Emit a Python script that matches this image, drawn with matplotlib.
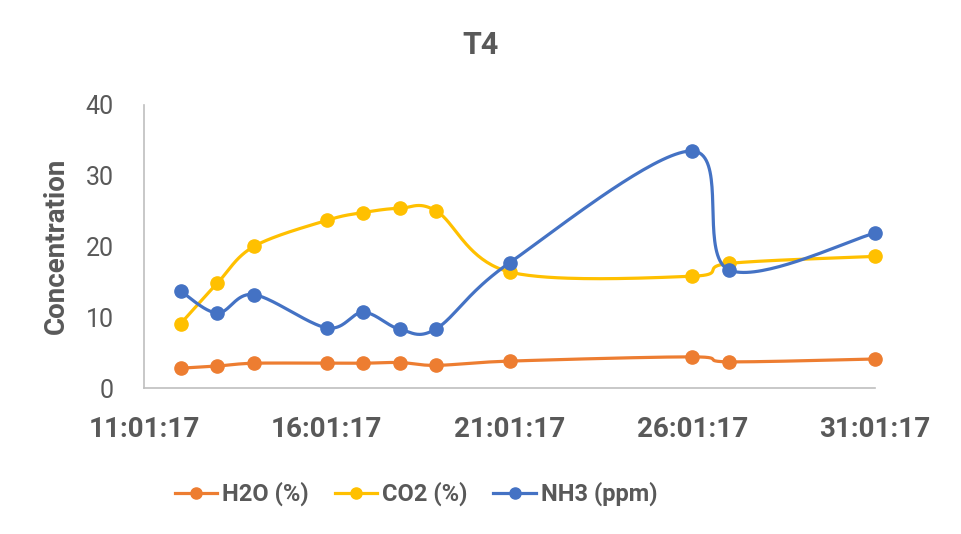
import matplotlib
matplotlib.use("Agg")
import matplotlib.pyplot as plt
import numpy as np

plt.rcParams['font.family'] = ['Roboto', 'DejaVu Sans']

# days of January 2017
days = [12, 13, 14, 16, 17, 18, 19, 21, 26, 27, 31]
h2o = [2.8, 3.1, 3.5, 3.5, 3.5, 3.6, 3.2, 3.8, 4.4, 3.7, 4.1]
co2 = [9.1, 14.8, 20.0, 23.7, 24.8, 25.4, 25.0, 16.4, 15.8, 17.6, 18.6]
nh3 = [13.7, 10.6, 13.2, 8.5, 10.7, 8.3, 8.4, 17.7, 33.5, 16.7, 21.9]

tick_days = [11, 16, 21, 26, 31]
tick_labels = ["11:01:17", "16:01:17", "21:01:17", "26:01:17", "31:01:17"]

series = [("H2O (%)", h2o, "#ED7D31"),
          ("CO2 (%)", co2, "#FFC000"),
          ("NH3 (ppm)", nh3, "#4472C4")]

XMIN, XMAX, YMIN, YMAX = 11, 31, 0, 40
W_PX, H_PX = 731.0, 283.0
GREY = '#595959'


def smooth(xs, ys, n=40):
    # excel-style smoothing: catmull-rom bezier in screen space
    px = (np.array(xs, float) - XMIN) / (XMAX - XMIN) * W_PX
    py = (np.array(ys, float) - YMIN) / (YMAX - YMIN) * H_PX
    pts = np.column_stack([px, py])
    out = [pts[0]]
    t = np.linspace(0, 1, n)[1:, None]
    for i in range(len(pts) - 1):
        p0 = pts[i - 1] if i > 0 else pts[i]
        p1 = pts[i]
        p2 = pts[i + 1]
        p3 = pts[i + 2] if i + 2 < len(pts) else pts[i + 1]
        c1 = p1 + (p2 - p0) / 6.0
        c2 = p2 - (p3 - p1) / 6.0
        seg = ((1 - t) ** 3) * p1 + 3 * ((1 - t) ** 2) * t * c1 + 3 * (1 - t) * t ** 2 * c2 + t ** 3 * p2
        out.extend(seg)
    out = np.array(out)
    return out[:, 0] / W_PX * (XMAX - XMIN) + XMIN, out[:, 1] / H_PX * (YMAX - YMIN) + YMIN


fig = plt.figure(figsize=(9.61, 5.34), dpi=100)
ax = fig.add_axes([0.150, 0.2734, 0.7605, 0.53])

for name, vals, col in series:
    sx, sy = smooth(days, vals)
    ax.plot(sx, sy, color=col, lw=2.3, solid_capstyle='round', clip_on=False)
    ax.plot(days, vals, 'o', color=col, ms=9.5, clip_on=False)
    ax.plot([], [], '-o', color=col, lw=2.3, ms=8, label=name)

ax.set_xlim(XMIN, XMAX)
ax.set_ylim(YMIN, YMAX)
ax.set_xticks(tick_days)
ax.set_xticklabels(tick_labels, fontsize=20, fontweight='bold', color=GREY)
ax.set_yticks([0, 10, 20, 30, 40])
ax.tick_params(axis='y', labelsize=18, colors=GREY, length=0, pad=22)
ax.tick_params(axis='x', length=0, pad=20)
for s in ['top', 'right']:
    ax.spines[s].set_visible(False)
for s in ['left', 'bottom']:
    ax.spines[s].set_color('#BFBFBF')
    ax.spines[s].set_linewidth(1.2)

fig.text(56 / 961, 1 - 246 / 534, "Concentration", rotation=90, ha='center', va='center',
         fontsize=20, fontweight='bold', color=GREY)
fig.text(481 / 961, 1 - 45 / 534, "T4", ha='center', va='center', fontsize=22,
         fontweight='bold', color=GREY)

leg = fig.legend(loc='center', bbox_to_anchor=(416 / 961, 1 - 494 / 534), ncol=3, frameon=False,
                 fontsize=17, handlelength=1.8, columnspacing=1.1, handletextpad=0.2)
for txt in leg.get_texts():
    txt.set_fontweight('bold')
    txt.set_color(GREY)

fig.savefig("out.png", dpi=100, facecolor='white')
